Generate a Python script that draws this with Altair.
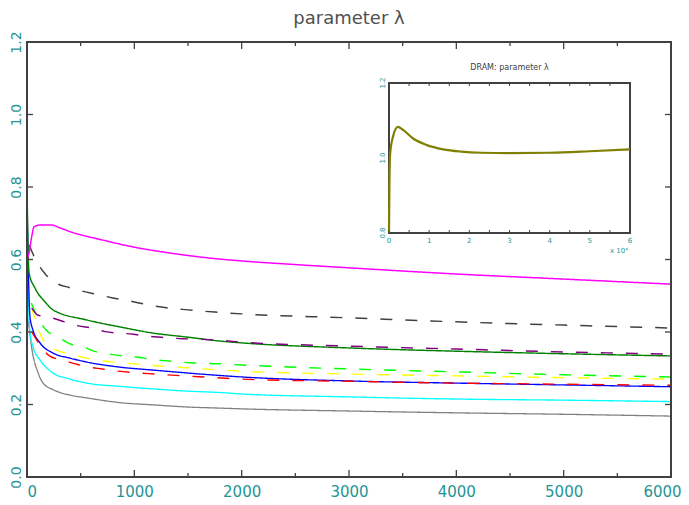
import altair as alt
import pandas as pd

# ---------------- data ----------------
series_names = ["gray", "cyan", "blue", "red", "yellow", "lime", "green", "purple", "black", "magenta"]
series_colors = ["#808080", "#00ffff", "#0000ff", "#ff0000", "#ffff00", "#00ff00", "#008000", "#800080", "#404040", "#ff00ff"]
series_dash = [[1, 0], [1, 0], [1, 0], [12, 13], [12, 13], [12, 13], [1, 0], [12, 13], [12, 13], [1, 0]]
series_width = [1.3, 1.5, 1.8, 1.8, 1.8, 1.8, 1.4, 1.8, 1.5, 1.5]

gray_x = [0, 20, 50, 100, 150, 250, 400, 560, 870, 1170, 1500, 1800, 2000, 3000, 4000, 5000, 6000]
gray_y = [0.45, 0.41, 0.345, 0.29, 0.259, 0.240, 0.226, 0.218, 0.205, 0.199, 0.193, 0.190, 0.188, 0.182, 0.177, 0.173, 0.168]

cyan_x = [0, 28, 56, 121, 242, 401, 559, 866, 1174, 1491, 1798, 2000, 3000, 4000, 5000, 6000]
cyan_y = [0.62, 0.397, 0.359, 0.323, 0.287, 0.270, 0.259, 0.250, 0.243, 0.237, 0.233, 0.229, 0.221, 0.215, 0.212, 0.208]

blue_x = [0, 28, 56, 121, 242, 401, 559, 866, 1174, 1491, 1798, 2000, 3000, 4000, 5000, 6000]
blue_y = [0.76, 0.441, 0.405, 0.370, 0.342, 0.328, 0.317, 0.303, 0.295, 0.287, 0.280, 0.276, 0.265, 0.259, 0.254, 0.249]

red_x = [45, 90, 210, 330, 450, 560, 700, 850, 1000, 1200, 1450, 1700, 2000, 3000, 4000, 5000, 6000]
red_y = [0.40, 0.378, 0.334, 0.322, 0.312, 0.304, 0.298, 0.292, 0.288, 0.284, 0.279, 0.275, 0.270, 0.264, 0.259, 0.256, 0.253]

yellow_x = [40, 80, 130, 200, 300, 400, 520, 650, 800, 1000, 1200, 1400, 1600, 2000, 3000, 4000, 5000, 6000]
yellow_y = [0.47, 0.43, 0.39, 0.362, 0.347, 0.339, 0.330, 0.323, 0.317, 0.312, 0.307, 0.303, 0.299, 0.292, 0.284, 0.279, 0.274, 0.270]

lime_x = [40, 100, 180, 290, 400, 520, 650, 770, 900, 1030, 1150, 1270, 1400, 1520, 1800, 2000, 3000, 4000, 5000, 6000]
lime_y = [0.48, 0.44, 0.405, 0.386, 0.367, 0.359, 0.345, 0.339, 0.334, 0.331, 0.325, 0.321, 0.318, 0.315, 0.312, 0.309, 0.298, 0.290, 0.282, 0.276]

green_x = [0, 19, 75, 168, 242, 559, 866, 1174, 1491, 1798, 2000, 3000, 4000, 5000, 6000]
green_y = [0.80, 0.563, 0.521, 0.483, 0.461, 0.433, 0.414, 0.397, 0.386, 0.375, 0.370, 0.356, 0.347, 0.340, 0.334]

purple_x = [45, 100, 230, 350, 480, 600, 730, 850, 990, 1100, 1220, 1350, 1500, 1750, 2000, 3000, 4000, 5000, 6000]
purple_y = [0.466, 0.447, 0.439, 0.428, 0.417, 0.411, 0.401, 0.397, 0.394, 0.389, 0.386, 0.383, 0.381, 0.378, 0.372, 0.361, 0.353, 0.345, 0.339]

black_x = [20, 80, 170, 260, 400, 600, 800, 1000, 1200, 1500, 1750, 2000, 3000, 4000, 5000, 6000]
black_y = [0.64, 0.60, 0.56, 0.537, 0.522, 0.507, 0.494, 0.483, 0.471, 0.461, 0.455, 0.450, 0.439, 0.428, 0.419, 0.411]

magenta_x = [0, 20, 45, 65, 120, 230, 300, 400, 700, 1000, 1330, 1800, 2000, 2500, 3000, 4000, 5000, 6000]
magenta_y = [0.60, 0.62, 0.665, 0.69, 0.695, 0.695, 0.688, 0.677, 0.654, 0.634, 0.618, 0.601, 0.596, 0.586, 0.577, 0.560, 0.546, 0.532]

# inset "DRAM: parameter lambda" (x in units of 10^4)
dram_x = [0, 0.01, 0.03, 0.1, 0.22, 0.35, 0.6, 0.93, 1.35, 1.8, 2.3, 3, 4, 5, 6]
dram_y = [0.8, 0.93, 1.013, 1.057, 1.083, 1.075, 1.052, 1.035, 1.023, 1.017, 1.014, 1.013, 1.014, 1.018, 1.023]

main_x_major = [0, 1000, 2000, 3000, 4000, 5000, 6000]
main_x_minor = [500, 1500, 2500, 3500, 4500, 5500]
main_y_major = [0.0, 0.2, 0.4, 0.6, 0.8, 1.0, 1.2]

inset_x_ticks = [0, 0.5, 1, 1.5, 2, 2.5, 3, 3.5, 4, 4.5, 5, 5.5, 6]
inset_x_labels = ["0", "1", "2", "3", "4", "5", "6"]
inset_x_label_pos = [0, 1, 2, 3, 4, 5, 6]
inset_y_labels = ["0.8", "1.0", "1.2"]
inset_y_label_pos = [0.8, 1.0, 1.2]

main_title = "parameter \u03bb"
inset_title_text = "DRAM: parameter \u03bb"

# ---------------- build tables ----------------
xs_all = [gray_x, cyan_x, blue_x, red_x, yellow_x, lime_x, green_x, purple_x, black_x, magenta_x]
ys_all = [gray_y, cyan_y, blue_y, red_y, yellow_y, lime_y, green_y, purple_y, black_y, magenta_y]
rows = []
for i, (name, xv, yv) in enumerate(zip(series_names, xs_all, ys_all)):
    for a, b in zip(xv, yv):
        rows.append({"series": name, "order": i, "x": a, "y": b})
lines_df = pd.DataFrame(rows)

W, H = 644, 435
FRAME = "#404040"
TEAL = "#1f9595"
FONT = "DejaVu Sans"

xs = alt.Scale(domain=[0, 6000], nice=False, zero=False)
ys = alt.Scale(domain=[0, 1.2], nice=False, zero=False)
xaxis = alt.Axis(values=main_x_major, format="d", ticks=False, domain=False, grid=False, title=None,
                 labelColor=TEAL, labelFontSize=15, labelFont=FONT, labelPadding=7,
                 labelAlign={"condition": {"test": "datum.value == 0", "value": "left"}, "value": "center"},
                 labelOffset={"condition": {"test": "datum.value == 6000", "value": -9}, "value": 0},
                 labelFlush=False, labelOverlap=False)
yaxis = alt.Axis(values=main_y_major, format=".1f", ticks=False, domain=False, grid=False, title=None,
                 labelColor=TEAL, labelFontSize=14, labelFont=FONT, labelPadding=7,
                 labelAngle=270, labelAlign="center", labelBaseline="alphabetic",
                 labelFlush=False, labelOverlap=False)

lines = alt.Chart(lines_df).mark_line(clip=True, interpolate="monotone").encode(
    x=alt.X("x:Q", scale=xs, axis=xaxis),
    y=alt.Y("y:Q", scale=ys, axis=yaxis),
    color=alt.Color("series:N", scale=alt.Scale(domain=series_names, range=series_colors), legend=None),
    strokeDash=alt.StrokeDash("series:N", scale=alt.Scale(domain=series_names, range=series_dash), legend=None),
    size=alt.Size("series:N", scale=alt.Scale(domain=series_names, range=series_width), legend=None),
    detail="series:N",
    order=alt.Order("order:Q"),
)

one = pd.DataFrame({"a": [0]})
xmaj = pd.DataFrame({"x": main_x_major})
xmin = pd.DataFrame({"x": main_x_minor})
ymaj = pd.DataFrame({"y": main_y_major})

frame = alt.Chart(one).mark_rect(fillOpacity=0, stroke=FRAME, strokeWidth=2).encode(
    x=alt.X(datum=0, scale=xs, axis=xaxis), x2=alt.X2(datum=6000),
    y=alt.Y(datum=0, scale=ys, axis=yaxis), y2=alt.Y2(datum=1.2))

def xtick(df, y0, y1):
    return alt.Chart(df).mark_rule(color=FRAME, strokeWidth=1.3).encode(
        x=alt.X("x:Q", scale=xs, axis=xaxis), y=alt.value(y0), y2=alt.value(y1))

def ytick(x0, x1):
    return alt.Chart(ymaj).mark_rule(color=FRAME, strokeWidth=1.3).encode(
        y=alt.Y("y:Q", scale=ys, axis=yaxis), x=alt.value(x0), x2=alt.value(x1))

title_mark = alt.Chart(one).mark_text(color="#505050", fontSize=18, font=FONT, align="center",
                                      baseline="top", dy=-32, text=main_title).encode(
    x=alt.X(datum=3000, scale=xs, axis=xaxis), y=alt.Y(datum=1.2, scale=ys, axis=yaxis))

main = alt.layer(
    lines,
    xtick(xmaj, H, H - 7), xtick(xmin, H, H - 4),
    xtick(xmaj, 0, 7), xtick(xmin, 0, 4),
    ytick(0, 6), ytick(W, W - 6),
    frame, title_mark,
)

# ---------------- inset ----------------
ixs = alt.Scale(domain=[0, 6], range=[362, 603], nice=False, zero=False)
iys = alt.Scale(domain=[0.8, 1.2], range=[191, 41], nice=False, zero=False)

inset_bg = alt.Chart(one).mark_rect(fill="white", stroke=FRAME, strokeWidth=2).encode(
    x=alt.X(datum=0, scale=ixs, axis=None), x2=alt.X2(datum=6),
    y=alt.Y(datum=0.8, scale=iys, axis=None), y2=alt.Y2(datum=1.2))

dram_df = pd.DataFrame({"x": dram_x, "y": dram_y})
inset_line = alt.Chart(dram_df).mark_line(color="#808000", strokeWidth=2.2, interpolate="monotone").encode(
    x=alt.X("x:Q", scale=ixs, axis=None), y=alt.Y("y:Q", scale=iys, axis=None))

itk = pd.DataFrame({"x": inset_x_ticks})
inset_ticks_b = alt.Chart(itk).mark_rule(color=FRAME, strokeWidth=1).encode(
    x=alt.X("x:Q", scale=ixs, axis=None), y=alt.Y(datum=0.8, scale=iys, axis=None), y2=alt.Y2(datum=0.808))
inset_ticks_t = alt.Chart(itk).mark_rule(color=FRAME, strokeWidth=1).encode(
    x=alt.X("x:Q", scale=ixs, axis=None), y=alt.Y(datum=1.2, scale=iys, axis=None), y2=alt.Y2(datum=1.192))

ixl = pd.DataFrame({"x": inset_x_label_pos, "t": inset_x_labels})
inset_xlab = alt.Chart(ixl).mark_text(color=TEAL, fontSize=7, font=FONT, baseline="top", dy=4).encode(
    x=alt.X("x:Q", scale=ixs, axis=None), y=alt.Y(datum=0.8, scale=iys, axis=None), text="t:N")

iyl = pd.DataFrame({"y": inset_y_label_pos, "t": inset_y_labels})
inset_ylab = alt.Chart(iyl).mark_text(color=TEAL, fontSize=7, font=FONT, angle=270, align="center",
                                      baseline="bottom").encode(
    x=alt.X(datum=-0.08, scale=ixs, axis=None), y=alt.Y("y:Q", scale=iys, axis=None), text="t:N")

inset_exp = alt.Chart(one).mark_text(color=TEAL, fontSize=7, font=FONT, align="right", baseline="top", dy=14, dx=-2,
                                     text="x 10\u2074").encode(
    x=alt.X(datum=6, scale=ixs, axis=None), y=alt.Y(datum=0.8, scale=iys, axis=None))

inset_title = alt.Chart(one).mark_text(color="#404040", fontSize=8, font=FONT, align="center",
                                       baseline="alphabetic", dy=-13, text=inset_title_text).encode(
    x=alt.X(datum=3, scale=ixs, axis=None), y=alt.Y(datum=1.2, scale=iys, axis=None))

inset = alt.layer(inset_bg, inset_line, inset_ticks_b, inset_ticks_t, inset_xlab, inset_ylab, inset_exp, inset_title)

chart = alt.layer(main, inset).resolve_scale(x="independent", y="independent").properties(
    width=W, height=H,
    padding={"left": 19, "top": 34, "right": 10, "bottom": 26},
    autosize=alt.AutoSizeParams(type="none"),
).configure_view(strokeWidth=0).configure(background="white")

chart.save("out.html", embed_options={"renderer": "svg", "actions": False})
